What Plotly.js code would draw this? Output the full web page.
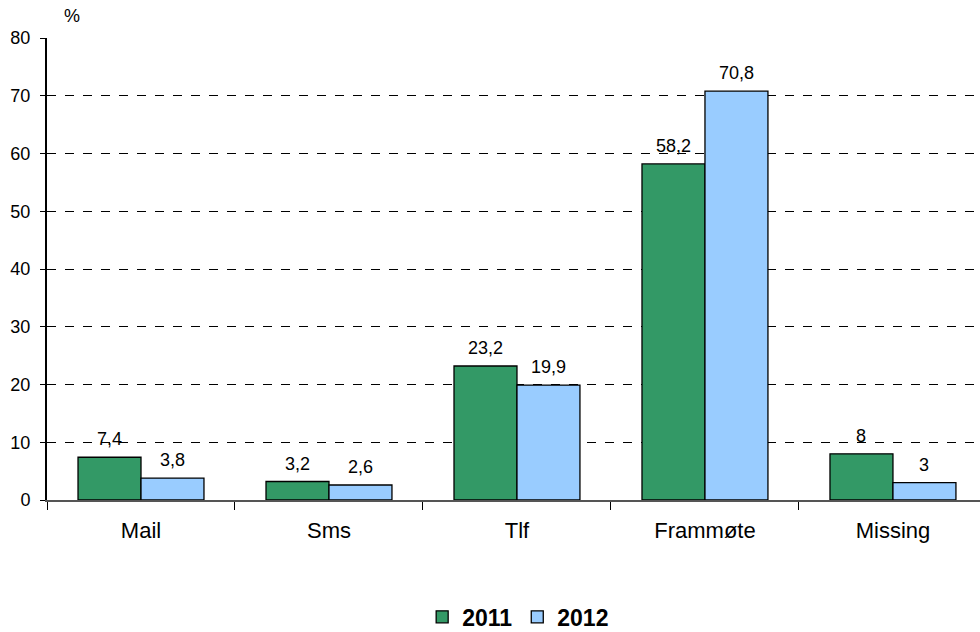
<!DOCTYPE html>
<html>
<head>
<meta charset="utf-8">
<script src="https://cdn.plot.ly/plotly-3.0.1.min.js"></script>
<style>html,body{margin:0;padding:0;background:#fff;}#chart{width:980px;height:632px;}</style>
</head>
<body>
<div id="chart"></div>
<script>
const categories = ["Mail", "Sms", "Tlf", "Frammøte", "Missing"];
const values2011 = [7.4, 3.2, 23.2, 58.2, 8];
const values2012 = [3.8, 2.6, 19.9, 70.8, 3];
const seriesNames = ["2011", "2012"];
const yTicks = [0, 10, 20, 30, 40, 50, 60, 70, 80];

const fmt = v => String(v).replace('.', ',');
const font = "Liberation Sans, Arial, sans-serif";
const BARGAP = 0.33;
const halfBar = (1 - BARGAP) / 4; // offset of each bar center within a group of two

function bar(name, vals, color) {
  return {
    type: 'bar', name: name, x: categories, y: vals,
    marker: {color: color, line: {color: '#000', width: 1.3}},
    hoverinfo: 'x+y'
  };
}

const data = [bar(seriesNames[0], values2011, '#339966'), bar(seriesNames[1], values2012, '#99CCFF')];

const annotations = [];
[values2011, values2012].forEach((vals, s) => {
  vals.forEach((v, i) => {
    annotations.push({
      x: i + (s === 0 ? -halfBar : halfBar), y: v, xref: 'x', yref: 'y',
      text: fmt(v), showarrow: false, yanchor: 'bottom', xanchor: 'center', yshift: 6,
      font: {family: font, size: 18, color: '#000'}
    });
  });
});
annotations.push({text: '%', xref: 'paper', yref: 'paper', x: 0.016, y: 1.048, xanchor: 'left', yanchor: 'middle',
                  showarrow: false, font: {family: font, size: 18, color: '#000'}});

const layout = {
  width: 980, height: 632,
  margin: {l: 47, r: 0, t: 38, b: 132, autoexpand: false},
  paper_bgcolor: '#fff', plot_bgcolor: '#fff',
  barmode: 'group', bargap: BARGAP, bargroupgap: 0,
  separators: ',.',
  font: {family: font, size: 18, color: '#000'},
  showlegend: true,
  legend: {orientation: 'h', xref: 'paper', x: 0.505, xanchor: 'center',
           yref: 'container', y: 0.024, yanchor: 'middle',
           font: {family: font, size: 23, color: '#000', weight: 'bold'}, itemwidth: 30, traceorder: 'normal'},
  xaxis: {
    type: 'category', range: [-0.5, 4.463], tickson: 'boundaries',
    ticks: 'outside', ticklen: 8, tickcolor: '#000', tickwidth: 1,
    showline: true, linecolor: '#555', linewidth: 1.5,
    showgrid: false, tickfont: {family: font, size: 22, color: '#000'},
    ticklabelstandoff: 10,
    automargin: false
  },
  yaxis: {
    range: [0, 80], tickvals: yTicks, ticktext: yTicks.map(String),
    ticks: 'outside', ticklen: 5, tickcolor: '#000',
    showline: true, linecolor: '#000', linewidth: 2,
    showgrid: true, gridcolor: '#000', gridwidth: 1, griddash: 'dash',
    zeroline: false, tickfont: {family: font, size: 18, color: '#000'},
    ticklabelstandoff: 6,
    automargin: false
  },
  annotations: annotations
};

Plotly.newPlot('chart', data, layout, {displayModeBar: false, staticPlot: true});
</script>
</body>
</html>
